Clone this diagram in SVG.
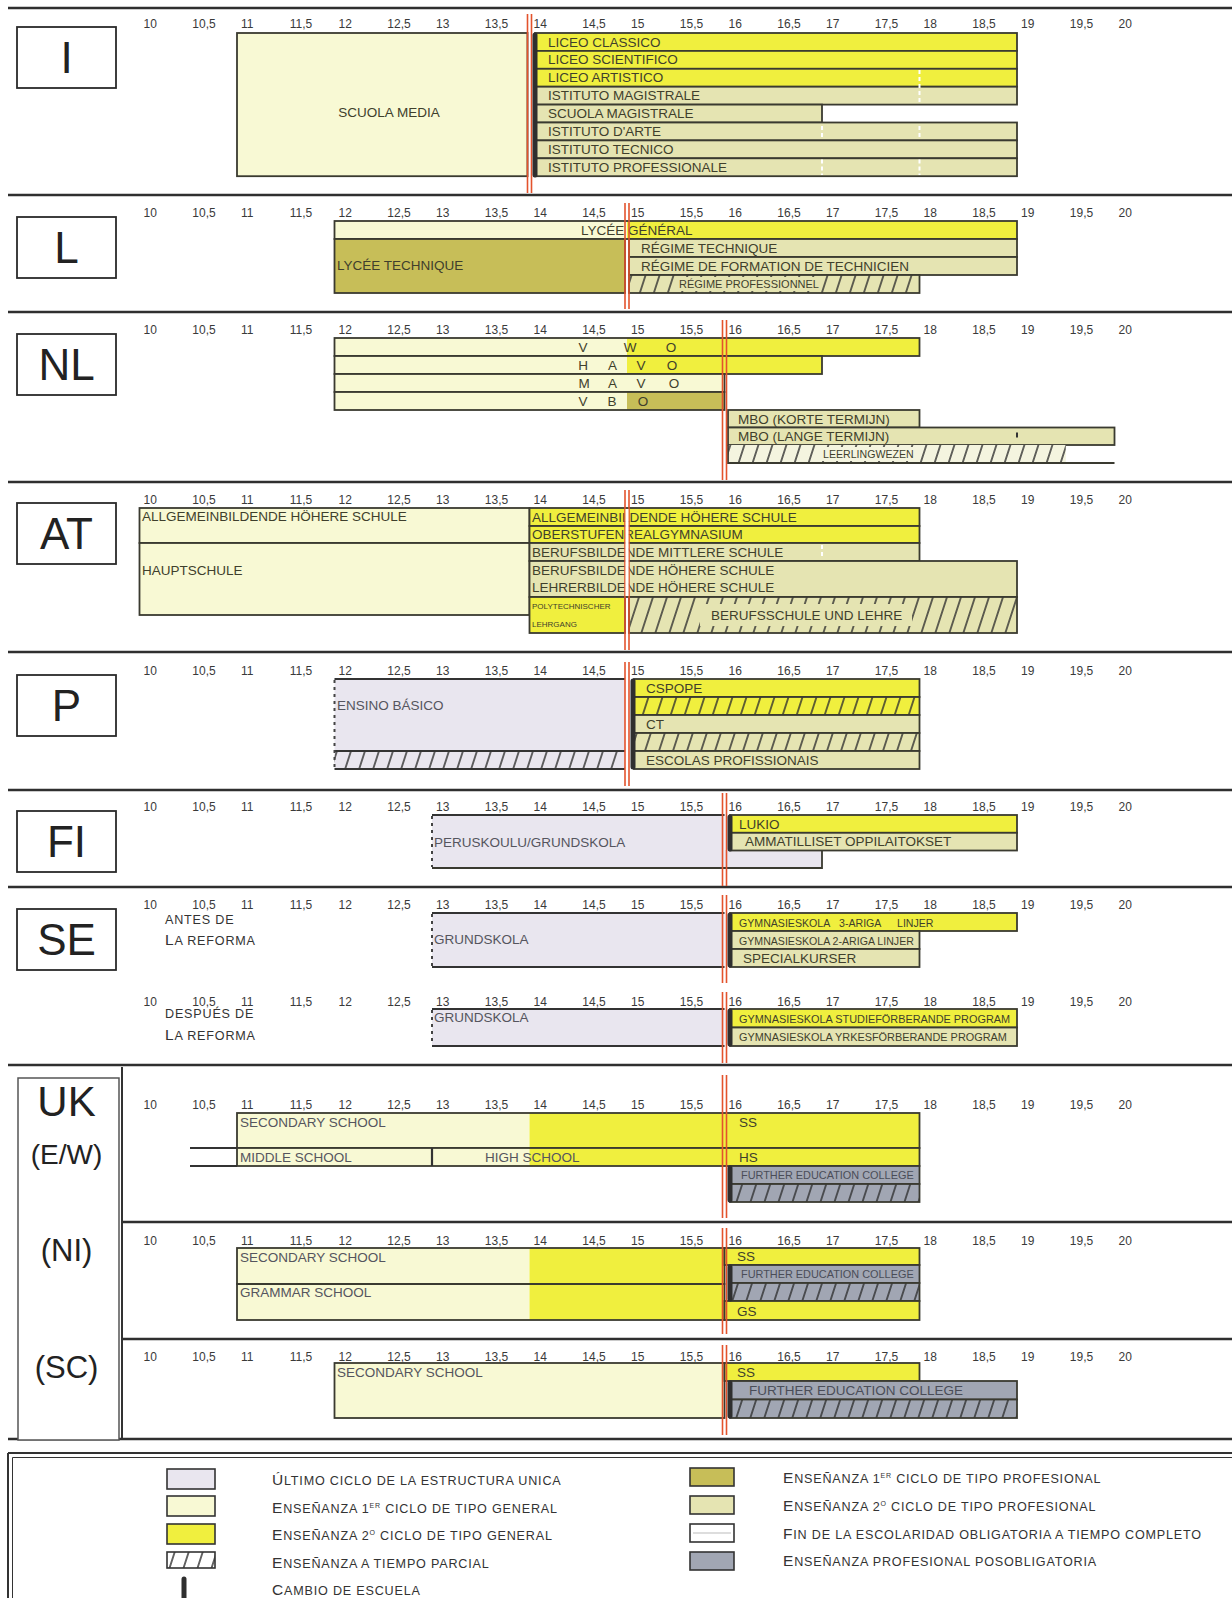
<svg xmlns="http://www.w3.org/2000/svg" width="1232" height="1598" viewBox="0 0 1232 1598">
<defs>
<pattern id="hatch" width="14" height="20" patternUnits="userSpaceOnUse" patternTransform="skewX(-18)"><line x1="7" y1="-1" x2="7" y2="21" stroke="#2d2d2d" stroke-width="1.5"/></pattern>
<style>
.sep{stroke:#2f2f2f;stroke-width:2.4}
.cb{fill:#fff;stroke:#2a2a2a;stroke-width:1.8}
.ct{font-family:"Liberation Sans",Arial,sans-serif;fill:#222;text-anchor:middle}
.tk{font-family:"Liberation Sans",Arial,sans-serif;font-size:12px;fill:#3a3a3a}
.b{stroke:#3a3a30;stroke-width:1.8}
.o{fill:none;stroke:#3a3a30;stroke-width:1.8}
.cr{fill:#f8f9d4}
.ye{fill:#f0ef3e}
.kh{fill:#e5e4b2}
.ol{fill:#c7be58}
.lv{fill:#e9e6ef}
.gy{fill:#a1a6b3}
.lt{fill:#f4f4df}
.ht{fill:url(#hatch)}
.lb{font-family:"Liberation Sans",Arial,sans-serif;font-size:13.5px;fill:#3f3f2c}
.lg{font-family:"Liberation Sans",Arial,sans-serif;font-size:13.5px;fill:#55555e}
.sm{font-size:10.6px}
.s11{font-size:10.9px}
.rp{font-size:11px}
.xs{font-size:8px}
.fe{font-size:10.9px;fill:#4a4d58}
.fe2{fill:#4a4d58}
.rl{stroke:#e3532c;stroke-width:1.6}
.cg{stroke:#2f2f2f;stroke-width:5;stroke-linecap:round}
.wd{stroke:#fff;stroke-width:2;stroke-dasharray:4 3}
.ln{stroke:#333;stroke-width:2.2}
.dl{stroke:#444;stroke-width:2;stroke-dasharray:3 4}
.leg{font-family:"Liberation Sans",Arial,sans-serif;font-size:12.6px;letter-spacing:0.8px;fill:#333}
.cap{font-size:15.5px}
.sup{font-size:7px}
.sw{stroke:#333;stroke-width:1.6}
</style>
</defs>
<rect width="1232" height="1598" fill="#fff"/>

<g id="separators">
<line class="sep" x1="8" y1="8" x2="1232" y2="8"/>
<line class="sep" x1="8" y1="195" x2="1232" y2="195"/>
<line class="sep" x1="8" y1="312" x2="1232" y2="312"/>
<line class="sep" x1="8" y1="482" x2="1232" y2="482"/>
<line class="sep" x1="8" y1="652" x2="1232" y2="652"/>
<line class="sep" x1="8" y1="790" x2="1232" y2="790"/>
<line class="sep" x1="8" y1="887" x2="1232" y2="887"/>
<line class="sep" x1="8" y1="1065" x2="1232" y2="1065"/>
<line class="sep" x1="122" y1="1222" x2="1232" y2="1222"/>
<line class="sep" x1="122" y1="1339" x2="1232" y2="1339"/>
<line class="sep" x1="8" y1="1439" x2="1232" y2="1439"/>
</g>

<g id="node-I">
<rect class="cb" x="17" y="27" width="99" height="61"/>
<text class="ct" x="66.5" y="73" font-size="44">I</text>
<text class="tk" y="28"><tspan x="143.5">10</tspan> <tspan x="192.3">10,5</tspan> <tspan x="241">11</tspan> <tspan x="289.8">11,5</tspan> <tspan x="338.5">12</tspan> <tspan x="387.3">12,5</tspan> <tspan x="436">13</tspan> <tspan x="484.8">13,5</tspan> <tspan x="533.5">14</tspan> <tspan x="582.3">14,5</tspan> <tspan x="631">15</tspan> <tspan x="679.8">15,5</tspan> <tspan x="728.5">16</tspan> <tspan x="777.3">16,5</tspan> <tspan x="826">17</tspan> <tspan x="874.8">17,5</tspan> <tspan x="923.5">18</tspan> <tspan x="972.3">18,5</tspan> <tspan x="1021">19</tspan> <tspan x="1069.8">19,5</tspan> <tspan x="1118.5">20</tspan></text>
<rect class="cr b" x="237" y="33" width="290.5" height="143.2"/>
<text class="lb" x="389" y="117" text-anchor="middle">SCUOLA MEDIA</text>
<rect class="ye b" x="535" y="33" width="482" height="17.9"/>
<rect class="ye b" x="535" y="50.9" width="482" height="17.9"/>
<rect class="ye b" x="535" y="68.8" width="482" height="17.9"/>
<rect class="kh b" x="535" y="86.7" width="482" height="17.9"/>
<rect class="kh b" x="535" y="104.6" width="287" height="17.9"/>
<rect class="kh b" x="535" y="122.5" width="482" height="17.9"/>
<rect class="kh b" x="535" y="140.4" width="482" height="17.9"/>
<rect class="kh b" x="535" y="158.3" width="482" height="17.9"/>
<text class="lb" x="548" y="46.5">LICEO CLASSICO</text>
<text class="lb" x="548" y="64.4">LICEO SCIENTIFICO</text>
<text class="lb" x="548" y="82.3">LICEO ARTISTICO</text>
<text class="lb" x="548" y="100.2">ISTITUTO MAGISTRALE</text>
<text class="lb" x="548" y="118.1">SCUOLA MAGISTRALE</text>
<text class="lb" x="548" y="136">ISTITUTO D'ARTE</text>
<text class="lb" x="548" y="153.9">ISTITUTO TECNICO</text>
<text class="lb" x="548" y="171.8">ISTITUTO PROFESSIONALE</text>
<line class="wd" x1="919.5" y1="70" x2="919.5" y2="103.5"/>
<line class="wd" x1="822" y1="126" x2="822" y2="137"/>
<line class="wd" x1="919.5" y1="126" x2="919.5" y2="137"/>
<line class="wd" x1="822" y1="159.5" x2="822" y2="175"/>
<line class="wd" x1="919.5" y1="159.5" x2="919.5" y2="175"/>
</g>

<g id="node-L">
<rect class="cb" x="17" y="217" width="99" height="61"/>
<text class="ct" x="66.5" y="263" font-size="44">L</text>
<text class="tk" y="217"><tspan x="143.5">10</tspan> <tspan x="192.3">10,5</tspan> <tspan x="241">11</tspan> <tspan x="289.8">11,5</tspan> <tspan x="338.5">12</tspan> <tspan x="387.3">12,5</tspan> <tspan x="436">13</tspan> <tspan x="484.8">13,5</tspan> <tspan x="533.5">14</tspan> <tspan x="582.3">14,5</tspan> <tspan x="631">15</tspan> <tspan x="679.8">15,5</tspan> <tspan x="728.5">16</tspan> <tspan x="777.3">16,5</tspan> <tspan x="826">17</tspan> <tspan x="874.8">17,5</tspan> <tspan x="923.5">18</tspan> <tspan x="972.3">18,5</tspan> <tspan x="1021">19</tspan> <tspan x="1069.8">19,5</tspan> <tspan x="1118.5">20</tspan></text>
<rect class="cr" x="334.5" y="221" width="292.5" height="18"/>
<rect class="ye" x="627" y="221" width="390" height="18"/>
<rect class="o" x="334.5" y="221" width="682.5" height="18"/>
<rect class="ol b" x="334.5" y="239" width="290.5" height="54"/>
<rect class="kh b" x="629" y="239" width="388" height="18"/>
<rect class="kh b" x="629" y="257" width="388" height="18"/>
<rect class="kh" x="629" y="275" width="290.5" height="18"/>
<rect class="ht" x="629" y="275" width="290.5" height="18"/>
<rect class="kh" x="675" y="277" width="143" height="14"/>
<rect class="o" x="629" y="275" width="290.5" height="18"/>
<text class="lb" x="581" y="234.5">LYCÉE GÉNÉRAL</text>
<text class="lb" x="337" y="270">LYCÉE TECHNIQUE</text>
<text class="lb" x="641" y="252.5">RÉGIME TECHNIQUE</text>
<text class="lb" x="641" y="270.5">RÉGIME DE FORMATION DE TECHNICIEN</text>
<text class="lb rp" x="679" y="288">RÉGIME PROFESSIONNEL</text>
</g>

<g id="node-NL">
<rect class="cb" x="17" y="334" width="99" height="61"/>
<text class="ct" x="66.5" y="380" font-size="44">NL</text>
<text class="tk" y="334"><tspan x="143.5">10</tspan> <tspan x="192.3">10,5</tspan> <tspan x="241">11</tspan> <tspan x="289.8">11,5</tspan> <tspan x="338.5">12</tspan> <tspan x="387.3">12,5</tspan> <tspan x="436">13</tspan> <tspan x="484.8">13,5</tspan> <tspan x="533.5">14</tspan> <tspan x="582.3">14,5</tspan> <tspan x="631">15</tspan> <tspan x="679.8">15,5</tspan> <tspan x="728.5">16</tspan> <tspan x="777.3">16,5</tspan> <tspan x="826">17</tspan> <tspan x="874.8">17,5</tspan> <tspan x="923.5">18</tspan> <tspan x="972.3">18,5</tspan> <tspan x="1021">19</tspan> <tspan x="1069.8">19,5</tspan> <tspan x="1118.5">20</tspan></text>
<rect class="cr" x="334.5" y="338" width="292.5" height="18"/>
<rect class="ye" x="627" y="338" width="292.5" height="18"/>
<rect class="o" x="334.5" y="338" width="585" height="18"/>
<rect class="cr" x="334.5" y="356" width="292.5" height="18"/>
<rect class="ye" x="627" y="356" width="195" height="18"/>
<rect class="o" x="334.5" y="356" width="487.5" height="18"/>
<rect class="cr b" x="334.5" y="374" width="390" height="18"/>
<rect class="cr" x="334.5" y="392" width="292.5" height="18"/>
<rect class="ol" x="627" y="392" width="97.5" height="18"/>
<rect class="o" x="334.5" y="392" width="390" height="18"/>
<text class="lb" y="351.5" text-anchor="middle"><tspan x="585">V</tspan> <tspan x="632">W</tspan> <tspan x="671">O</tspan></text>
<text class="lb" y="369.5" text-anchor="middle"><tspan x="585">H</tspan> <tspan x="614">A</tspan> <tspan x="643">V</tspan> <tspan x="672">O</tspan></text>
<text class="lb" y="387.5" text-anchor="middle"><tspan x="586">M</tspan> <tspan x="614">A</tspan> <tspan x="643">V</tspan> <tspan x="674">O</tspan></text>
<text class="lb" y="405.5" text-anchor="middle"><tspan x="585">V</tspan> <tspan x="614">B</tspan> <tspan x="643">O</tspan></text>
<rect class="kh b" x="728" y="410" width="191.5" height="17.5"/>
<rect class="kh b" x="728" y="427.5" width="386.5" height="17.5"/>
<line x1="1017" y1="432.5" x2="1017" y2="437.5" stroke="#333" stroke-width="2"/>
<rect class="lt" x="728" y="445" width="337.8" height="18"/>
<rect class="ht" x="728" y="445" width="337.8" height="18"/>
<rect class="lt" x="816" y="447" width="104" height="14"/>
<path class="o" d="M728,445 V463 H1114.5"/>
<text class="lb" x="738" y="423.5">MBO (KORTE TERMIJN)</text>
<text class="lb" x="738" y="441">MBO (LANGE TERMIJN)</text>
<text class="lb sm" x="823" y="458">LEERLINGWEZEN</text>
</g>

<g id="node-AT">
<rect class="cb" x="17" y="503" width="99" height="61"/>
<text class="ct" x="66.5" y="549" font-size="44">AT</text>
<text class="tk" y="504"><tspan x="143.5">10</tspan> <tspan x="192.3">10,5</tspan> <tspan x="241">11</tspan> <tspan x="289.8">11,5</tspan> <tspan x="338.5">12</tspan> <tspan x="387.3">12,5</tspan> <tspan x="436">13</tspan> <tspan x="484.8">13,5</tspan> <tspan x="533.5">14</tspan> <tspan x="582.3">14,5</tspan> <tspan x="631">15</tspan> <tspan x="679.8">15,5</tspan> <tspan x="728.5">16</tspan> <tspan x="777.3">16,5</tspan> <tspan x="826">17</tspan> <tspan x="874.8">17,5</tspan> <tspan x="923.5">18</tspan> <tspan x="972.3">18,5</tspan> <tspan x="1021">19</tspan> <tspan x="1069.8">19,5</tspan> <tspan x="1118.5">20</tspan></text>
<rect class="cr b" x="139.5" y="508" width="390" height="35"/>
<rect class="cr b" x="139.5" y="543" width="390" height="72"/>
<text class="lb" x="142" y="521">ALLGEMEINBILDENDE HÖHERE SCHULE</text>
<text class="lb" x="142" y="575">HAUPTSCHULE</text>
<rect class="ye b" x="529.5" y="508" width="390" height="18"/>
<rect class="ye b" x="529.5" y="526" width="390" height="17"/>
<rect class="kh b" x="529.5" y="543" width="390" height="18"/>
<rect class="kh b" x="529.5" y="561" width="487.5" height="36"/>
<rect class="ye b" x="529.5" y="597" width="95.5" height="36"/>
<rect class="kh" x="629" y="597" width="388" height="36"/>
<rect class="ht" x="629" y="597" width="388" height="36"/>
<rect class="kh" x="700" y="604" width="212" height="22"/>
<rect class="o" x="629" y="597" width="388" height="36"/>
<line class="wd" x1="822" y1="545" x2="822" y2="559"/>
<text class="lb" x="532" y="521.5">ALLGEMEINBILDENDE HÖHERE SCHULE</text>
<text class="lb" x="532" y="539">OBERSTUFENREALGYMNASIUM</text>
<text class="lb" x="532" y="556.5">BERUFSBILDENDE MITTLERE SCHULE</text>
<text class="lb" x="532" y="574.5">BERUFSBILDENDE HÖHERE SCHULE</text>
<text class="lb" x="532" y="592">LEHRERBILDENDE HÖHERE SCHULE</text>
<text class="lb xs" x="532" y="609">POLYTECHNISCHER</text>
<text class="lb xs" x="532" y="627">LEHRGANG</text>
<text class="lb" x="711" y="620">BERUFSSCHULE UND LEHRE</text>
</g>

<g id="node-P">
<rect class="cb" x="17" y="675" width="99" height="61"/>
<text class="ct" x="66.5" y="721" font-size="44">P</text>
<text class="tk" y="675"><tspan x="143.5">10</tspan> <tspan x="192.3">10,5</tspan> <tspan x="241">11</tspan> <tspan x="289.8">11,5</tspan> <tspan x="338.5">12</tspan> <tspan x="387.3">12,5</tspan> <tspan x="436">13</tspan> <tspan x="484.8">13,5</tspan> <tspan x="533.5">14</tspan> <tspan x="582.3">14,5</tspan> <tspan x="631">15</tspan> <tspan x="679.8">15,5</tspan> <tspan x="728.5">16</tspan> <tspan x="777.3">16,5</tspan> <tspan x="826">17</tspan> <tspan x="874.8">17,5</tspan> <tspan x="923.5">18</tspan> <tspan x="972.3">18,5</tspan> <tspan x="1021">19</tspan> <tspan x="1069.8">19,5</tspan> <tspan x="1118.5">20</tspan></text>
<rect class="lv" x="334.5" y="679" width="290.5" height="90"/>
<rect class="ht" x="334.5" y="751" width="290.5" height="18"/>
<line class="ln" x1="334.5" y1="679" x2="625" y2="679"/>
<line class="ln" x1="334.5" y1="751" x2="625" y2="751"/>
<line class="ln" x1="334.5" y1="769" x2="625" y2="769"/>
<line class="dl" x1="334.5" y1="680" x2="334.5" y2="768"/>
<text class="lg" x="337" y="710">ENSINO BÁSICO</text>
<rect class="ye b" x="634" y="679" width="285.5" height="18"/>
<rect class="ye" x="634" y="697" width="285.5" height="18"/>
<rect class="ht" x="634" y="697" width="285.5" height="18"/>
<rect class="o" x="634" y="697" width="285.5" height="18"/>
<rect class="kh b" x="634" y="715" width="285.5" height="18"/>
<rect class="kh" x="634" y="733" width="285.5" height="18"/>
<rect class="ht" x="634" y="733" width="285.5" height="18"/>
<rect class="o" x="634" y="733" width="285.5" height="18"/>
<rect class="kh b" x="634" y="751" width="285.5" height="18"/>
<text class="lb" x="646" y="692.5">CSPOPE</text>
<text class="lb" x="646" y="728.5">CT</text>
<text class="lb" x="646" y="764.5">ESCOLAS PROFISSIONAIS</text>
</g>

<g id="node-FI">
<rect class="cb" x="17" y="811" width="99" height="61"/>
<text class="ct" x="66.5" y="857" font-size="44">FI</text>
<text class="tk" y="811"><tspan x="143.5">10</tspan> <tspan x="192.3">10,5</tspan> <tspan x="241">11</tspan> <tspan x="289.8">11,5</tspan> <tspan x="338.5">12</tspan> <tspan x="387.3">12,5</tspan> <tspan x="436">13</tspan> <tspan x="484.8">13,5</tspan> <tspan x="533.5">14</tspan> <tspan x="582.3">14,5</tspan> <tspan x="631">15</tspan> <tspan x="679.8">15,5</tspan> <tspan x="728.5">16</tspan> <tspan x="777.3">16,5</tspan> <tspan x="826">17</tspan> <tspan x="874.8">17,5</tspan> <tspan x="923.5">18</tspan> <tspan x="972.3">18,5</tspan> <tspan x="1021">19</tspan> <tspan x="1069.8">19,5</tspan> <tspan x="1118.5">20</tspan></text>
<rect class="lv" x="432" y="815" width="292.5" height="53"/>
<rect class="lv" x="724.5" y="850" width="97.5" height="18"/>
<line class="ln" x1="432" y1="815" x2="724.5" y2="815"/>
<path class="o" d="M432,868 H822 V850"/>
<line class="dl" x1="432" y1="816" x2="432" y2="867"/>
<text class="lg" x="434" y="847">PERUSKOULU/GRUNDSKOLA</text>
<rect class="ye b" x="730" y="815" width="287" height="17.8"/>
<rect class="kh b" x="730" y="832.8" width="287" height="17.7"/>
<text class="lb" x="739" y="828.5">LUKIO</text>
<text class="lb" x="745" y="846">AMMATILLISET OPPILAITOKSET</text>
</g>

<g id="node-SE">
<rect class="cb" x="17" y="909" width="99" height="61"/>
<text class="ct" x="66.5" y="955" font-size="44">SE</text>
<text class="tk" y="909"><tspan x="143.5">10</tspan> <tspan x="192.3">10,5</tspan> <tspan x="241">11</tspan> <tspan x="289.8">11,5</tspan> <tspan x="338.5">12</tspan> <tspan x="387.3">12,5</tspan> <tspan x="436">13</tspan> <tspan x="484.8">13,5</tspan> <tspan x="533.5">14</tspan> <tspan x="582.3">14,5</tspan> <tspan x="631">15</tspan> <tspan x="679.8">15,5</tspan> <tspan x="728.5">16</tspan> <tspan x="777.3">16,5</tspan> <tspan x="826">17</tspan> <tspan x="874.8">17,5</tspan> <tspan x="923.5">18</tspan> <tspan x="972.3">18,5</tspan> <tspan x="1021">19</tspan> <tspan x="1069.8">19,5</tspan> <tspan x="1118.5">20</tspan></text>
<text class="leg" x="165" y="924">ANTES DE</text>
<text class="leg" x="165" y="945"><tspan class="cap">L</tspan>A REFORMA</text>
<rect class="lv" x="432" y="913" width="292.5" height="54"/>
<line class="ln" x1="432" y1="913" x2="724.5" y2="913"/>
<line class="ln" x1="432" y1="967" x2="724.5" y2="967"/>
<line class="dl" x1="432" y1="914" x2="432" y2="966"/>
<text class="lg" x="434" y="944">GRUNDSKOLA</text>
<rect class="ye b" x="730" y="913" width="287" height="18"/>
<rect class="kh b" x="730" y="931" width="189.5" height="18"/>
<rect class="kh b" x="730" y="949" width="189.5" height="18"/>
<text class="lb sm" y="926.5"><tspan x="739">GYMNASIESKOLA </tspan><tspan x="839">3-ARIGA </tspan><tspan x="897">LINJER</tspan></text>
<text class="lb sm" x="739" y="944.5">GYMNASIESKOLA 2-ARIGA LINJER</text>
<text class="lb" x="743" y="962.5">SPECIALKURSER</text>
<text class="tk" y="1006"><tspan x="143.5">10</tspan> <tspan x="192.3">10,5</tspan> <tspan x="241">11</tspan> <tspan x="289.8">11,5</tspan> <tspan x="338.5">12</tspan> <tspan x="387.3">12,5</tspan> <tspan x="436">13</tspan> <tspan x="484.8">13,5</tspan> <tspan x="533.5">14</tspan> <tspan x="582.3">14,5</tspan> <tspan x="631">15</tspan> <tspan x="679.8">15,5</tspan> <tspan x="728.5">16</tspan> <tspan x="777.3">16,5</tspan> <tspan x="826">17</tspan> <tspan x="874.8">17,5</tspan> <tspan x="923.5">18</tspan> <tspan x="972.3">18,5</tspan> <tspan x="1021">19</tspan> <tspan x="1069.8">19,5</tspan> <tspan x="1118.5">20</tspan></text>
<text class="leg" x="165" y="1018">DESPUÉS DE</text>
<text class="leg" x="165" y="1040"><tspan class="cap">L</tspan>A REFORMA</text>
<rect class="lv" x="432" y="1009" width="292.5" height="37"/>
<line class="ln" x1="432" y1="1009" x2="724.5" y2="1009"/>
<line class="ln" x1="432" y1="1046" x2="724.5" y2="1046"/>
<line class="dl" x1="432" y1="1010" x2="432" y2="1045"/>
<text class="lg" x="434" y="1022">GRUNDSKOLA</text>
<rect class="ye b" x="730" y="1009" width="287" height="18.5"/>
<rect class="kh b" x="730" y="1027.5" width="287" height="18.5"/>
<text class="lb s11" x="739" y="1022.5">GYMNASIESKOLA STUDIEFÖRBERANDE PROGRAM</text>
<text class="lb s11" x="739" y="1041">GYMNASIESKOLA  YRKESFÖRBERANDE PROGRAM</text>
</g>

<g id="node-UK">
<rect x="18" y="1078" width="101" height="362" fill="#fff" stroke="#555" stroke-width="1.5"/>
<line x1="122" y1="1067" x2="122" y2="1438" stroke="#333" stroke-width="2"/>
<text class="ct" x="66.5" y="1116" font-size="42">UK</text>
<text class="ct" x="66.5" y="1164" font-size="28">(E/W)</text>
<text class="ct" x="66.5" y="1261" font-size="31">(NI)</text>
<text class="ct" x="66.5" y="1378" font-size="31">(SC)</text>
<g id="node-UK-EW">
<text class="tk" y="1109"><tspan x="143.5">10</tspan> <tspan x="192.3">10,5</tspan> <tspan x="241">11</tspan> <tspan x="289.8">11,5</tspan> <tspan x="338.5">12</tspan> <tspan x="387.3">12,5</tspan> <tspan x="436">13</tspan> <tspan x="484.8">13,5</tspan> <tspan x="533.5">14</tspan> <tspan x="582.3">14,5</tspan> <tspan x="631">15</tspan> <tspan x="679.8">15,5</tspan> <tspan x="728.5">16</tspan> <tspan x="777.3">16,5</tspan> <tspan x="826">17</tspan> <tspan x="874.8">17,5</tspan> <tspan x="923.5">18</tspan> <tspan x="972.3">18,5</tspan> <tspan x="1021">19</tspan> <tspan x="1069.8">19,5</tspan> <tspan x="1118.5">20</tspan></text>
<rect class="cr" x="237" y="1113" width="292.5" height="35"/>
<rect class="ye" x="529.5" y="1113" width="390" height="35"/>
<rect class="o" x="237" y="1113" width="682.5" height="35"/>
<rect class="cr" x="237" y="1148" width="292.5" height="18"/>
<rect class="ye" x="529.5" y="1148" width="390" height="18"/>
<rect class="o" x="237" y="1148" width="682.5" height="18"/>
<line class="ln" x1="190" y1="1148" x2="237" y2="1148"/>
<line class="ln" x1="190" y1="1166" x2="237" y2="1166"/>
<line class="ln" x1="432" y1="1148" x2="432" y2="1166"/>
<text class="lg" x="240" y="1127">SECONDARY SCHOOL</text>
<text class="lg" x="240" y="1161.5">MIDDLE SCHOOL</text>
<text class="lg" x="485" y="1161.5">HIGH SCHOOL</text>
<text class="lb" x="739" y="1127">SS</text>
<text class="lb" x="739" y="1161.5">HS</text>
<rect class="gy b" x="730" y="1166" width="189.5" height="18"/>
<rect class="gy" x="730" y="1184" width="189.5" height="18"/>
<rect class="ht" x="730" y="1184" width="189.5" height="18"/>
<rect class="o" x="730" y="1184" width="189.5" height="18"/>
<text class="lb fe" x="741" y="1179">FURTHER EDUCATION COLLEGE</text>
</g>
<g id="node-UK-NI">
<text class="tk" y="1245"><tspan x="143.5">10</tspan> <tspan x="192.3">10,5</tspan> <tspan x="241">11</tspan> <tspan x="289.8">11,5</tspan> <tspan x="338.5">12</tspan> <tspan x="387.3">12,5</tspan> <tspan x="436">13</tspan> <tspan x="484.8">13,5</tspan> <tspan x="533.5">14</tspan> <tspan x="582.3">14,5</tspan> <tspan x="631">15</tspan> <tspan x="679.8">15,5</tspan> <tspan x="728.5">16</tspan> <tspan x="777.3">16,5</tspan> <tspan x="826">17</tspan> <tspan x="874.8">17,5</tspan> <tspan x="923.5">18</tspan> <tspan x="972.3">18,5</tspan> <tspan x="1021">19</tspan> <tspan x="1069.8">19,5</tspan> <tspan x="1118.5">20</tspan></text>
<rect class="cr" x="237" y="1248" width="292.5" height="72"/>
<rect class="ye" x="529.5" y="1248" width="195" height="72"/>
<rect class="o" x="237" y="1248" width="487.5" height="36"/>
<rect class="o" x="237" y="1284" width="487.5" height="36"/>
<text class="lg" x="240" y="1262">SECONDARY SCHOOL</text>
<text class="lg" x="240" y="1297">GRAMMAR SCHOOL</text>
<rect class="ye b" x="724.5" y="1248" width="195" height="17"/>
<rect class="gy b" x="730" y="1265" width="189.5" height="18"/>
<rect class="gy" x="730" y="1283" width="189.5" height="18"/>
<rect class="ht" x="730" y="1283" width="189.5" height="18"/>
<rect class="o" x="730" y="1283" width="189.5" height="18"/>
<rect class="ye b" x="724.5" y="1301" width="195" height="19"/>
<text class="lb" x="737" y="1261">SS</text>
<text class="lb fe" x="741" y="1278">FURTHER EDUCATION COLLEGE</text>
<text class="lb" x="737" y="1315.5">GS</text>
</g>
<g id="node-UK-SC">
<text class="tk" y="1361"><tspan x="143.5">10</tspan> <tspan x="192.3">10,5</tspan> <tspan x="241">11</tspan> <tspan x="289.8">11,5</tspan> <tspan x="338.5">12</tspan> <tspan x="387.3">12,5</tspan> <tspan x="436">13</tspan> <tspan x="484.8">13,5</tspan> <tspan x="533.5">14</tspan> <tspan x="582.3">14,5</tspan> <tspan x="631">15</tspan> <tspan x="679.8">15,5</tspan> <tspan x="728.5">16</tspan> <tspan x="777.3">16,5</tspan> <tspan x="826">17</tspan> <tspan x="874.8">17,5</tspan> <tspan x="923.5">18</tspan> <tspan x="972.3">18,5</tspan> <tspan x="1021">19</tspan> <tspan x="1069.8">19,5</tspan> <tspan x="1118.5">20</tspan></text>
<rect class="cr b" x="334.5" y="1363" width="390" height="55"/>
<text class="lg" x="337" y="1377">SECONDARY SCHOOL</text>
<rect class="ye b" x="724.5" y="1363" width="195" height="18"/>
<rect class="gy b" x="730" y="1381" width="287" height="18.5"/>
<rect class="gy" x="730" y="1399.5" width="287" height="18.5"/>
<rect class="ht" x="730" y="1399.5" width="287" height="18.5"/>
<rect class="o" x="730" y="1399.5" width="287" height="18.5"/>
<text class="lb" x="737" y="1377">SS</text>
<text class="lb fe2" x="749" y="1395">FURTHER EDUCATION COLLEGE</text>
</g>
</g>

<g id="markers">
<g class="rl">
<line x1="527.5" y1="14" x2="527.5" y2="193"/><line x1="531.5" y1="14" x2="531.5" y2="193"/>
<line x1="625" y1="203" x2="625" y2="309"/><line x1="629" y1="203" x2="629" y2="309"/>
<line x1="722.5" y1="320" x2="722.5" y2="480"/><line x1="726.5" y1="320" x2="726.5" y2="480"/>
<line x1="625" y1="490" x2="625" y2="650"/><line x1="629" y1="490" x2="629" y2="650"/>
<line x1="625" y1="662" x2="625" y2="786"/><line x1="629" y1="662" x2="629" y2="786"/>
<line x1="722.5" y1="793" x2="722.5" y2="886"/><line x1="726.5" y1="793" x2="726.5" y2="886"/>
<line x1="722.5" y1="895" x2="722.5" y2="983"/><line x1="726.5" y1="895" x2="726.5" y2="983"/>
<line x1="722.5" y1="992" x2="722.5" y2="1063"/><line x1="726.5" y1="992" x2="726.5" y2="1063"/>
<line x1="722.5" y1="1075" x2="722.5" y2="1218"/><line x1="726.5" y1="1075" x2="726.5" y2="1218"/>
<line x1="722.5" y1="1228" x2="722.5" y2="1334"/><line x1="726.5" y1="1228" x2="726.5" y2="1334"/>
<line x1="722.5" y1="1345" x2="722.5" y2="1435"/><line x1="726.5" y1="1345" x2="726.5" y2="1435"/>
</g>
<rect x="625.5" y="509" width="3" height="87" fill="#fff"/>
<g class="cg">
<line x1="535" y1="35" x2="535" y2="175"/>
<line x1="633" y1="681" x2="633" y2="767"/>
<line x1="730" y1="817" x2="730" y2="849"/>
<line x1="730" y1="915" x2="730" y2="965"/>
<line x1="730" y1="1011" x2="730" y2="1044"/>
<line x1="730" y1="1168" x2="730" y2="1200"/>
<line x1="730" y1="1267" x2="730" y2="1299"/>
<line x1="730" y1="1383" x2="730" y2="1416"/>
</g>
</g>

<g id="legend">
<line x1="8" y1="1453" x2="1232" y2="1453" stroke="#333" stroke-width="2"/>
<line x1="12.5" y1="1457.5" x2="1232" y2="1457.5" stroke="#333" stroke-width="1"/>
<line x1="8" y1="1453" x2="8" y2="1598" stroke="#333" stroke-width="2"/>
<line x1="12.5" y1="1457.5" x2="12.5" y2="1598" stroke="#333" stroke-width="1"/>
<g id="legend-unica"><rect class="lv sw" x="167" y="1469" width="48" height="20"/><text class="leg" x="272" y="1485"><tspan class="cap">Ú</tspan>LTIMO CICLO DE LA ESTRUCTURA UNICA</text></g>
<g id="legend-gen1"><rect class="cr sw" x="167" y="1496" width="48" height="20"/><text class="leg" x="272" y="1513"><tspan class="cap">E</tspan>NSEÑANZA 1<tspan class="sup" dy="-5">ER</tspan><tspan dy="5"> CICLO DE TIPO GENERAL</tspan></text></g>
<g id="legend-gen2"><rect class="ye sw" x="167" y="1524" width="48" height="20"/><text class="leg" x="272" y="1540"><tspan class="cap">E</tspan>NSEÑANZA 2<tspan class="sup" dy="-5">O</tspan><tspan dy="5"> CICLO DE TIPO GENERAL</tspan></text></g>
<g id="legend-parcial"><rect x="167" y="1552" width="48" height="16" fill="#fff"/><rect class="ht" x="167" y="1552" width="48" height="16"/><rect class="sw" x="167" y="1552" width="48" height="16" fill="none"/><text class="leg" x="272" y="1568"><tspan class="cap">E</tspan>NSEÑANZA A TIEMPO PARCIAL</text></g>
<g id="legend-cambio"><line class="cg" x1="184" y1="1579" x2="184" y2="1600"/><text class="leg" x="272" y="1595"><tspan class="cap">C</tspan>AMBIO DE ESCUELA</text></g>
<g id="legend-prof1"><rect class="ol sw" x="690" y="1468" width="44" height="18"/><text class="leg" x="783" y="1483"><tspan class="cap">E</tspan>NSEÑANZA 1<tspan class="sup" dy="-5">ER</tspan><tspan dy="5"> CICLO DE TIPO PROFESIONAL</tspan></text></g>
<g id="legend-prof2"><rect class="kh sw" x="690" y="1496" width="44" height="18"/><text class="leg" x="783" y="1511"><tspan class="cap">E</tspan>NSEÑANZA 2<tspan class="sup" dy="-5">O</tspan><tspan dy="5"> CICLO DE TIPO PROFESIONAL</tspan></text></g>
<g id="legend-fin"><rect class="sw" x="690" y="1524" width="44" height="18" fill="#fff"/><line x1="693" y1="1533" x2="731" y2="1533" stroke="#bbb" stroke-width="1"/><text class="leg" x="783" y="1539"><tspan class="cap">F</tspan>IN DE LA ESCOLARIDAD OBLIGATORIA A TIEMPO COMPLETO</text></g>
<g id="legend-posob"><rect class="gy sw" x="690" y="1552" width="44" height="18"/><text class="leg" x="783" y="1566"><tspan class="cap">E</tspan>NSEÑANZA PROFESIONAL POSOBLIGATORIA</text></g>
</g>
</svg>
